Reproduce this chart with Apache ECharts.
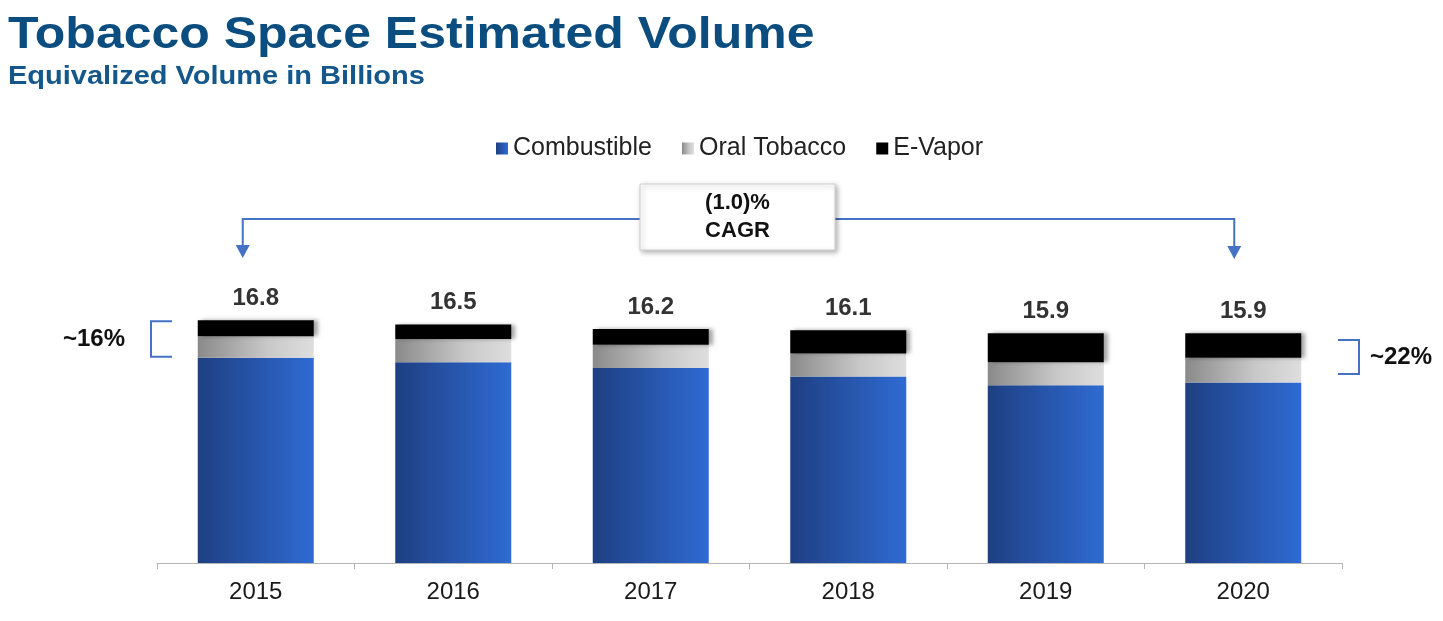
<!DOCTYPE html>
<html>
<head>
<meta charset="utf-8">
<title>Tobacco Space Estimated Volume</title>
<script src="https://cdn.jsdelivr.net/npm/echarts@6/dist/echarts.min.js"></script>
<style>
    html, body { margin: 0; padding: 0; background: #fff; }
    #chart { width: 1443px; height: 621px; }
</style>
</head>
<body>
<div id="chart"></div>
<script>
// 数据
const years = ['2015', '2016', '2017', '2018', '2019', '2020'];
const combustible = [14.2, 13.9, 13.5, 12.9, 12.3, 12.5];
const oralTobacco = [1.5, 1.6, 1.6, 1.6, 1.6, 1.7];
const eVapor = [1.1, 1.0, 1.1, 1.6, 2.0, 1.7];
const totals = [16.8, 16.5, 16.2, 16.1, 15.9, 15.9];
const cagrText = '(1.0)%\nCAGR';
const shareStart = '~16%';
const shareEnd = '~22%';

const FONT = 'Liberation Sans, Arial, sans-serif';
const blueGrad = new echarts.graphic.LinearGradient(0, 0, 1, 0, [
    {offset: 0, color: '#1e3f82'},
    {offset: 1, color: '#2f6bd3'}
]);
const grayGrad = new echarts.graphic.LinearGradient(0, 0, 1, 0, [
    {offset: 0, color: '#8a8a8a'},
    {offset: 0.6, color: '#c8c8c8'},
    {offset: 1, color: '#dedede'}
]);
const barShadow = {
    shadowColor: 'rgba(0,0,0,0.35)',
    shadowBlur: 4,
    shadowOffsetX: 4,
    shadowOffsetY: 0
};

const chart = echarts.init(document.getElementById('chart'));

const option = {
    animation: false,
    backgroundColor: '#fff',
    textStyle: {fontFamily: FONT},
    legend: {
        top: 131,
        left: 491,
        icon: 'rect',
        itemWidth: 12,
        itemHeight: 12,
        itemGap: 30,
        textStyle: {fontSize: 25, color: '#222', fontFamily: FONT},
        data: ['Combustible', 'Oral Tobacco', 'E-Vapor']
    },
    grid: {left: 157, right: 101, top: 274, bottom: 58},
    xAxis: {
        type: 'category',
        data: years,
        axisLine: {lineStyle: {color: '#b5b5b5', width: 1}},
        axisTick: {show: true, length: 6, lineStyle: {color: '#b5b5b5'}},
        axisLabel: {fontSize: 24, color: '#1a1a1a', margin: 17, fontFamily: FONT}
    },
    yAxis: {
        type: 'value',
        min: 0,
        max: 20,
        show: false,
        splitLine: {show: false}
    },
    series: [{
        name: 'Combustible',
        type: 'bar',
        stack: 'total',
        barWidth: 116,
        data: combustible,
        itemStyle: Object.assign({color: blueGrad}, barShadow)
    }, {
        name: 'Oral Tobacco',
        type: 'bar',
        stack: 'total',
        data: oralTobacco,
        itemStyle: Object.assign({color: grayGrad}, barShadow)
    }, {
        name: 'E-Vapor',
        type: 'bar',
        stack: 'total',
        data: eVapor,
        itemStyle: Object.assign({color: '#000'}, barShadow),
        label: {
            show: true,
            position: 'top',
            distance: 10,
            fontSize: 24,
            fontWeight: 'bold',
            color: '#333',
            fontFamily: FONT,
            formatter: (p) => totals[p.dataIndex].toFixed(1)
        }
    }]
};
chart.setOption(option);

// 注释：标题、CAGR 箭头与百分比括号，位置由坐标轴换算
const px = (i, v) => chart.convertToPixel({gridIndex: 0}, [years[i], v]);
const last = years.length - 1;
const first0 = px(0, combustible[0]);
const first1 = px(0, totals[0]);
const last0 = px(last, combustible[last]);
const lineY = 219;
const arrowColor = '#4472c4';
const boxL = 640, boxR = 835;

const arrowHead = (x, y) => ({
    type: 'polygon',
    shape: {points: [[x - 7, y - 13], [x + 7, y - 13], [x, y]]},
    style: {fill: arrowColor}
});
const boldText = (x, y, text, align, size) => ({
    type: 'text', x: x, y: y,
    style: {text: text, fontSize: size, fontWeight: 'bold', fill: '#111', fontFamily: FONT,
        align: align, verticalAlign: 'middle', lineHeight: 28}
});

chart.setOption({
    graphic: [
        {type: 'text', x: 8, y: 14, scaleX: 1.136,
            style: {text: 'Tobacco Space Estimated Volume', fontSize: 44, fontWeight: 'bold',
                fill: '#0b4d7e', fontFamily: FONT, verticalAlign: 'top'}},
        {type: 'text', x: 8, y: 65, scaleX: 1.16,
            style: {text: 'Equivalized Volume in Billions', fontSize: 25, fontWeight: 'bold',
                fill: '#14578a', fontFamily: FONT, verticalAlign: 'top'}},
        {type: 'polyline', shape: {points: [[first0[0] - 13, 250], [first0[0] - 13, lineY], [boxL, lineY]]},
            style: {stroke: arrowColor, lineWidth: 2, fill: null}},
        arrowHead(first0[0] - 13, 258),
        {type: 'polyline', shape: {points: [[boxR, lineY], [last0[0] - 9, lineY], [last0[0] - 9, 250]]},
            style: {stroke: arrowColor, lineWidth: 2, fill: null}},
        arrowHead(last0[0] - 9, 259),
        {type: 'rect', shape: {x: boxL, y: 184, width: boxR - boxL, height: 66},
            style: {fill: '#fff', stroke: '#d0d0d0', lineWidth: 1,
                shadowColor: 'rgba(0,0,0,0.3)', shadowBlur: 5, shadowOffsetX: 2, shadowOffsetY: 2}},
        boldText((boxL + boxR) / 2, 217, cagrText, 'center', 22),
        // 左侧括号
        {type: 'polyline',
            shape: {points: [[172, first1[1] + 1], [151, first1[1] + 1], [151, first0[1] - 1], [172, first0[1] - 1]]},
            style: {stroke: arrowColor, lineWidth: 2, fill: null}},
        boldText(125, (first1[1] + first0[1]) / 2, shareStart, 'right', 24),
        // 右侧括号
        {type: 'polyline',
            shape: {points: [[1338, 340], [1359, 340], [1359, 374], [1338, 374]]},
            style: {stroke: arrowColor, lineWidth: 2, fill: null}},
        boldText(1370, 357, shareEnd, 'left', 24)
    ]
});
</script>
</body>
</html>
